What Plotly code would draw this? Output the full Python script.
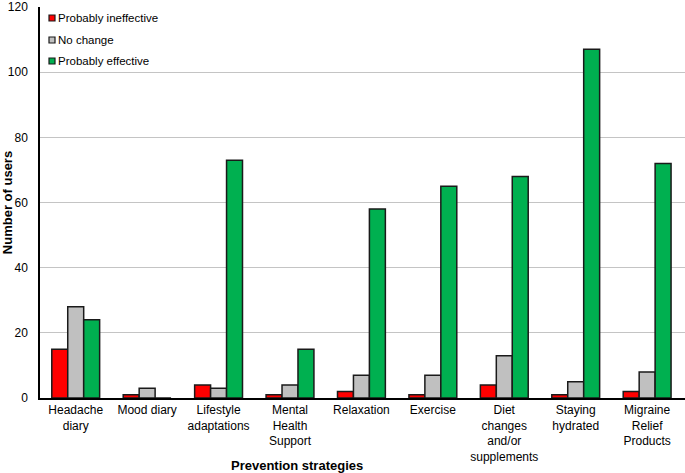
import plotly.graph_objects as go

categories = ["Headache<br>diary", "Mood diary", "Lifestyle<br>adaptations",
              "Mental<br>Health<br>Support", "Relaxation", "Exercise",
              "Diet<br>changes<br>and/or<br>supplements", "Staying<br>hydrated",
              "Migraine<br>Relief<br>Products"]
ineffective = [15, 1, 4, 1, 2, 1, 4, 1, 2]
no_change = [28, 3, 3, 4, 7, 7, 13, 5, 8]
effective = [24, 0, 73, 15, 58, 65, 68, 107, 72]
y_ticks = [0, 20, 40, 60, 80, 100, 120]
series_names = ["Probably ineffective", "No change", "Probably effective"]
series_colors = ["#ff0000", "#c0c0c0", "#00b050"]

fig = go.Figure()
for name, vals, col in zip(series_names, [ineffective, no_change, effective], series_colors):
    fig.add_trace(go.Bar(x=categories, y=vals, name=name, marker_color=col,
                         marker_line_color="#1a1a1a", marker_line_width=1.5,
                         showlegend=False))

# Excel-style legend: small bordered squares with labels, top-left inside plot
row_px = [11, 33, 54]
for name, col, dy in zip(series_names, series_colors, row_px):
    fig.add_shape(type="rect", xref="paper", yref="paper",
                  xsizemode="pixel", ysizemode="pixel",
                  xanchor=0, yanchor=1, x0=9, x1=15, y0=-dy - 3, y1=-dy + 3,
                  fillcolor=col, line=dict(color="#1a1a1a", width=1.2), layer="above")
    fig.add_annotation(text=name, xref="paper", yref="paper", x=0, y=1,
                       xanchor="left", yanchor="middle", xshift=16, yshift=-dy,
                       showarrow=False, font=dict(size=11.5, color="black"))

fig.add_annotation(text="<b>Prevention strategies</b>", xref="paper", yref="paper",
                   x=(297 - 40) / 645, y=-(466 - 398) / 391, xanchor="center",
                   yanchor="middle", showarrow=False, font=dict(size=13, color="black"))

fig.update_layout(
    width=685, height=473,
    margin=dict(l=40, r=0, t=7, b=75),
    paper_bgcolor="white", plot_bgcolor="white",
    font=dict(family="Liberation Sans, Arial", size=12, color="black"),
    barmode="group", bargap=0.33, bargroupgap=0,
    showlegend=False,
    xaxis=dict(showline=True, linecolor="black", linewidth=1.5, ticks="",
               range=[-0.5, 8.53], automargin=False,
               tickfont=dict(size=12)),
    yaxis=dict(range=[0, 120], tickvals=y_ticks, showline=True, linecolor="black",
               linewidth=1.5, showgrid=True, gridcolor="#c4c4c4", gridwidth=1.3,
               zeroline=False, ticks="", automargin=False, ticklabelstandoff=8,
               ticklabeloverflow="allow",
               title=dict(text="<b>Number of users</b>", font=dict(size=13), standoff=1),
               tickfont=dict(size=12)),
)
fig.write_html("out.html", config={"displayModeBar": False},
               post_script="document.body.style.margin='0';document.body.style.overflow='hidden';")
